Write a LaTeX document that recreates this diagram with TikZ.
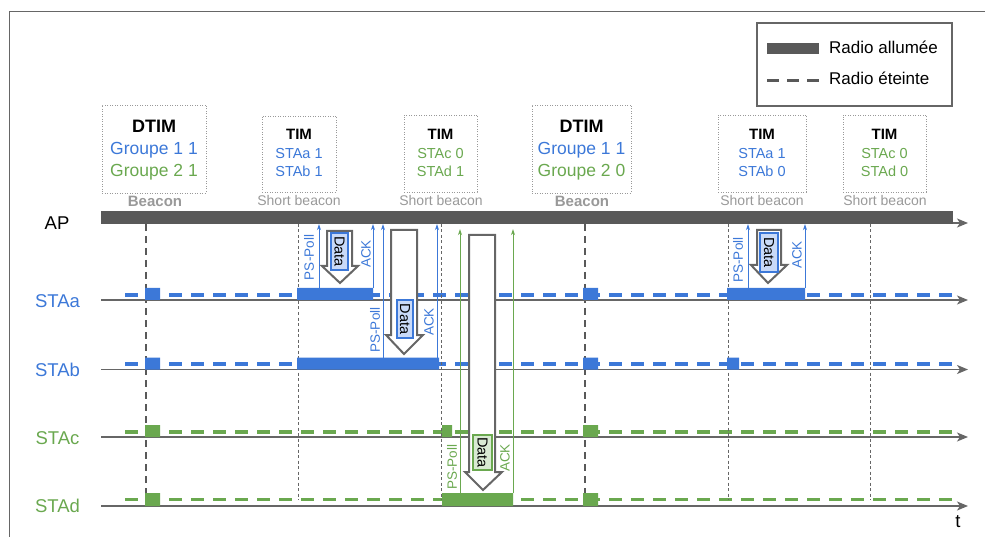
\documentclass[tikz,border=0pt]{standalone}
\usepackage{fontspec}
\setmainfont{Liberation Sans}
\usepackage{tikz}
\usetikzlibrary{arrows.meta}

\definecolor{stablue}{HTML}{3C78D8}
\definecolor{stagreen}{HTML}{6AA84F}
\definecolor{apgray}{HTML}{595959}
\definecolor{axgray}{HTML}{666666}
\definecolor{lblgray}{HTML}{999999}
\definecolor{datablue}{HTML}{C9DAF8}
\definecolor{datagreen}{HTML}{D9EAD3}

\tikzset{
  axisline/.style={draw=axgray, line width=1.6pt, -{Stealth[length=11pt,width=9pt,inset=3pt]}},
  offline/.style={line width=3.5pt, dash pattern=on 13pt off 9pt},
  dtimline/.style={draw=apgray, line width=1.2pt, dash pattern=on 7pt off 5pt},
  timline/.style={draw=axgray, line width=0.6pt, dash pattern=on 3pt off 2.5pt},
  bcnbox/.style={draw=lblgray, line width=0.7pt, dash pattern=on 1pt off 1.5pt, inner sep=0pt},
  msg/.style={line width=0.8pt, -{Stealth[length=6pt,width=4pt]}},
  bigarrow/.style={draw=axgray, fill=white, line width=2pt, line join=miter},
  databox/.style={draw, line width=1.4pt, inner sep=0pt, rotate=-90, text=black,
    font=\fontsize{14.5}{15}\selectfont},
  tag/.style={rotate=90, inner sep=0pt, font=\fontsize{13.5}{14}\selectfont},
  sta/.style={anchor=base, inner sep=0pt, font=\fontsize{18.5}{20}\selectfont},
  dtimhd/.style={anchor=base, inner sep=0pt, font=\bfseries\fontsize{18}{20}\selectfont},
  timhd/.style={anchor=base, inner sep=0pt, font=\bfseries\fontsize{15}{17}\selectfont},
  grp/.style={anchor=base, inner sep=0pt, font=\fontsize{17.5}{19}\selectfont},
  stx/.style={anchor=base, inner sep=0pt, font=\fontsize{14.5}{16}\selectfont},
  bcn/.style={anchor=base, inner sep=0pt, text=lblgray, font=\bfseries\fontsize{15}{17}\selectfont},
  sbcn/.style={anchor=base, inner sep=0pt, text=lblgray, font=\fontsize{14}{16}\selectfont},
  legtxt/.style={anchor=base west, inner sep=0pt, font=\fontsize{17}{19}\selectfont},
}

\begin{document}
\begin{tikzpicture}[x=1pt, y=-1pt]
    \useasboundingbox (0,0) rectangle (985,537);
    % frame and legend
    \draw[axgray, line width=1pt] (9,537) -- (9,12) -- (985,12);
    \node[draw=axgray, line width=1.5pt, minimum width=195pt, minimum height=83pt, inner sep=0pt] (legend) at (854.5,64.5) {};
    \fill[apgray] (767,43) rectangle (819,54);
    \draw[apgray, line width=3pt, dash pattern=on 12pt off 8pt] (767,81) -- (819,81);
    \node[legtxt] (legon) at (829,54) {Radio allumée};
    \node[legtxt] (legoff) at (829,85) {Radio éteinte};

    % beacon boxes
    \node[bcnbox, minimum width=104pt, minimum height=88pt] (b1) at (154,149) {};
    \node[dtimhd] (b1h) at (154,132.5) {DTIM};
    \node[grp, text=stablue] (b1l1) at (154,154.5) {Groupe 1 1};
    \node[grp, text=stagreen] (b1l2) at (154,176.5) {Groupe 2 1};
    \node[bcn] (b1n) at (155,206.5) {Beacon};

    \node[bcnbox, minimum width=74pt, minimum height=76pt] (b2) at (299,154) {};
    \node[timhd] (b2h) at (299,139.5) {TIM};
    \node[stx, text=stablue] (b2l1) at (299,158.5) {STAa 1};
    \node[stx, text=stablue] (b2l2) at (299,176.5) {STAb 1};
    \node[sbcn] (b2n) at (299,206) {Short beacon};

    \node[bcnbox, minimum width=73pt, minimum height=77pt] (b3) at (440.5,153.5) {};
    \node[timhd] (b3h) at (440.5,139.5) {TIM};
    \node[stx, text=stagreen] (b3l1) at (440.5,158.5) {STAc 0};
    \node[stx, text=stagreen] (b3l2) at (440.5,176.5) {STAd 1};
    \node[sbcn] (b3n) at (441,206) {Short beacon};

    \node[bcnbox, minimum width=99pt, minimum height=88pt] (b4) at (581.5,149) {};
    \node[dtimhd] (b4h) at (581.5,132.5) {DTIM};
    \node[grp, text=stablue] (b4l1) at (581.5,154.5) {Groupe 1 1};
    \node[grp, text=stagreen] (b4l2) at (581.5,176.5) {Groupe 2 0};
    \node[bcn] (b4n) at (582,206.5) {Beacon};

    \node[bcnbox, minimum width=88pt, minimum height=77pt] (b5) at (762,153.5) {};
    \node[timhd] (b5h) at (762,139.5) {TIM};
    \node[stx, text=stablue] (b5l1) at (762,158.5) {STAa 1};
    \node[stx, text=stablue] (b5l2) at (762,176.5) {STAb 0};
    \node[sbcn] (b5n) at (762,206) {Short beacon};

    \node[bcnbox, minimum width=83pt, minimum height=77pt] (b6) at (884.5,153.5) {};
    \node[timhd] (b6h) at (884.5,139.5) {TIM};
    \node[stx, text=stagreen] (b6l1) at (884.5,158.5) {STAc 0};
    \node[stx, text=stagreen] (b6l2) at (884.5,176.5) {STAd 0};
    \node[sbcn] (b6n) at (885,206) {Short beacon};

    % station names and time axes
    \node[sta] (ap) at (57,230) {AP};
    \node[sta, text=stablue] (staa) at (57.5,308) {STAa};
    \node[sta, text=stablue] (stab) at (57.5,376.5) {STAb};
    \node[sta, text=stagreen] (stac) at (57.5,444.5) {STAc};
    \node[sta, text=stagreen] (stad) at (57.5,512.5) {STAd};
    \node[sta] (tlbl) at (958,527) {t};

    \draw[axisline] (101,223) -- (968,223);
    \node[fill=apgray, minimum width=852pt, minimum height=13pt, inner sep=0pt] (apbar) at (527,217.5) {};

    \draw[stablue, offline] (125,295) -- (952,295);
    \draw[stablue, offline] (125,364) -- (955,364);
    \draw[stagreen, offline] (125,432) -- (952,432);
    \draw[stagreen, offline] (125,499.5) -- (952,499.5);

    \draw[timline] (298,224) -- (298,500);
    \draw[timline] (441,224) -- (441,500);
    \draw[timline] (728,224) -- (728,500);
    \draw[timline] (870,224) -- (870,500);
    \draw[dtimline] (146,224) -- (146,506);
    \draw[dtimline] (585,224) -- (585,506);

    \draw[axisline] (101,300) -- (968,300);
    \draw[axisline] (101,369.5) -- (968,369.5);
    \draw[axisline] (101,437) -- (968,437);
    \draw[axisline] (101,506) -- (968,506);

    % radio on
    \fill[stablue] (145,288) rectangle (160,300) (583,288) rectangle (598,300)
        (297,288) rectangle (373,300) (727,288) rectangle (805,300);
    \fill[stablue] (145,357.5) rectangle (160,369.5) (583,357.5) rectangle (598,369.5)
        (297,357.5) rectangle (439,369.5) (727,357.5) rectangle (739,369.5);
    \fill[stagreen] (145,425) rectangle (160,437) (583,425) rectangle (598,437)
        (442,425) rectangle (452,437);
    \fill[stagreen] (145,493) rectangle (160,506) (583,493) rectangle (598,506)
        (442,493) rectangle (513,506);

    % PS-Poll / ACK
    \coordinate (pa1) at (319,288);
    \coordinate (ka1) at (373,288);
    \coordinate (pb1) at (383,357.5);
    \coordinate (kb1) at (437,357.5);
    \coordinate (pd1) at (460,493);
    \coordinate (kd1) at (513,493);
    \coordinate (pa2) at (748,288);
    \coordinate (ka2) at (805,288);
    \draw[msg, stablue] (pa1) -- (pa1 |- apbar.south);
    \draw[msg, stablue] (ka1) -- (ka1 |- apbar.south);
    \draw[msg, stablue] (pb1) -- (pb1 |- apbar.south);
    \draw[msg, stablue] (kb1) -- (kb1 |- apbar.south);
    \draw[msg, stagreen, shorten >=5pt] (pd1) -- (pd1 |- apbar.south);
    \draw[msg, stagreen, shorten >=5pt] (kd1) -- (kd1 |- apbar.south);
    \draw[msg, stablue] (pa2) -- (pa2 |- apbar.south);
    \draw[msg, stablue] (ka2) -- (ka2 |- apbar.south);

    \node[tag, text=stablue] (pa1t) at (309,257.5) {PS-Poll};
    \node[tag, text=stablue] (ka1t) at (366,254) {ACK};
    \node[tag, text=stablue] (pb1t) at (375,330) {PS-Poll};
    \node[tag, text=stablue] (kb1t) at (429,322) {ACK};
    \node[tag, text=stagreen] (pd1t) at (452,467) {PS-Poll};
    \node[tag, text=stagreen] (kd1t) at (505,458) {ACK};
    \node[tag, text=stablue] (pa2t) at (738,260) {PS-Poll};
    \node[tag, text=stablue] (ka2t) at (797,255) {ACK};

    % data
    \draw[bigarrow] (327,231) -- (352,231) -- (352,266) -- (358,266) -- (340,283) -- (322,266) -- (327,266) -- cycle;
    \draw[bigarrow] (391,230) -- (417,230) -- (417,335) -- (423,335) -- (404,354) -- (386,335) -- (391,335) -- cycle;
    \draw[bigarrow] (469,235) -- (495,235) -- (495,472) -- (502,472) -- (483,490) -- (465,472) -- (469,472) -- cycle;
    \draw[bigarrow] (757,230) -- (781,230) -- (781,265) -- (787,265) -- (768,283) -- (751,265) -- (757,265) -- cycle;
    \node[databox, draw=stablue, fill=datablue, minimum width=37pt, minimum height=17pt] (d1) at (339.5,251.5) {Data};
    \node[databox, draw=stablue, fill=datablue, minimum width=38pt, minimum height=16pt] (d2) at (405,319) {Data};
    \node[databox, draw=stagreen, fill=datagreen, minimum width=35pt, minimum height=19pt] (d3) at (482.5,452.5) {Data};
    \node[databox, draw=stablue, fill=datablue, minimum width=39pt, minimum height=18pt] (d4) at (769,252.5) {Data};
\end{tikzpicture}
\end{document}
